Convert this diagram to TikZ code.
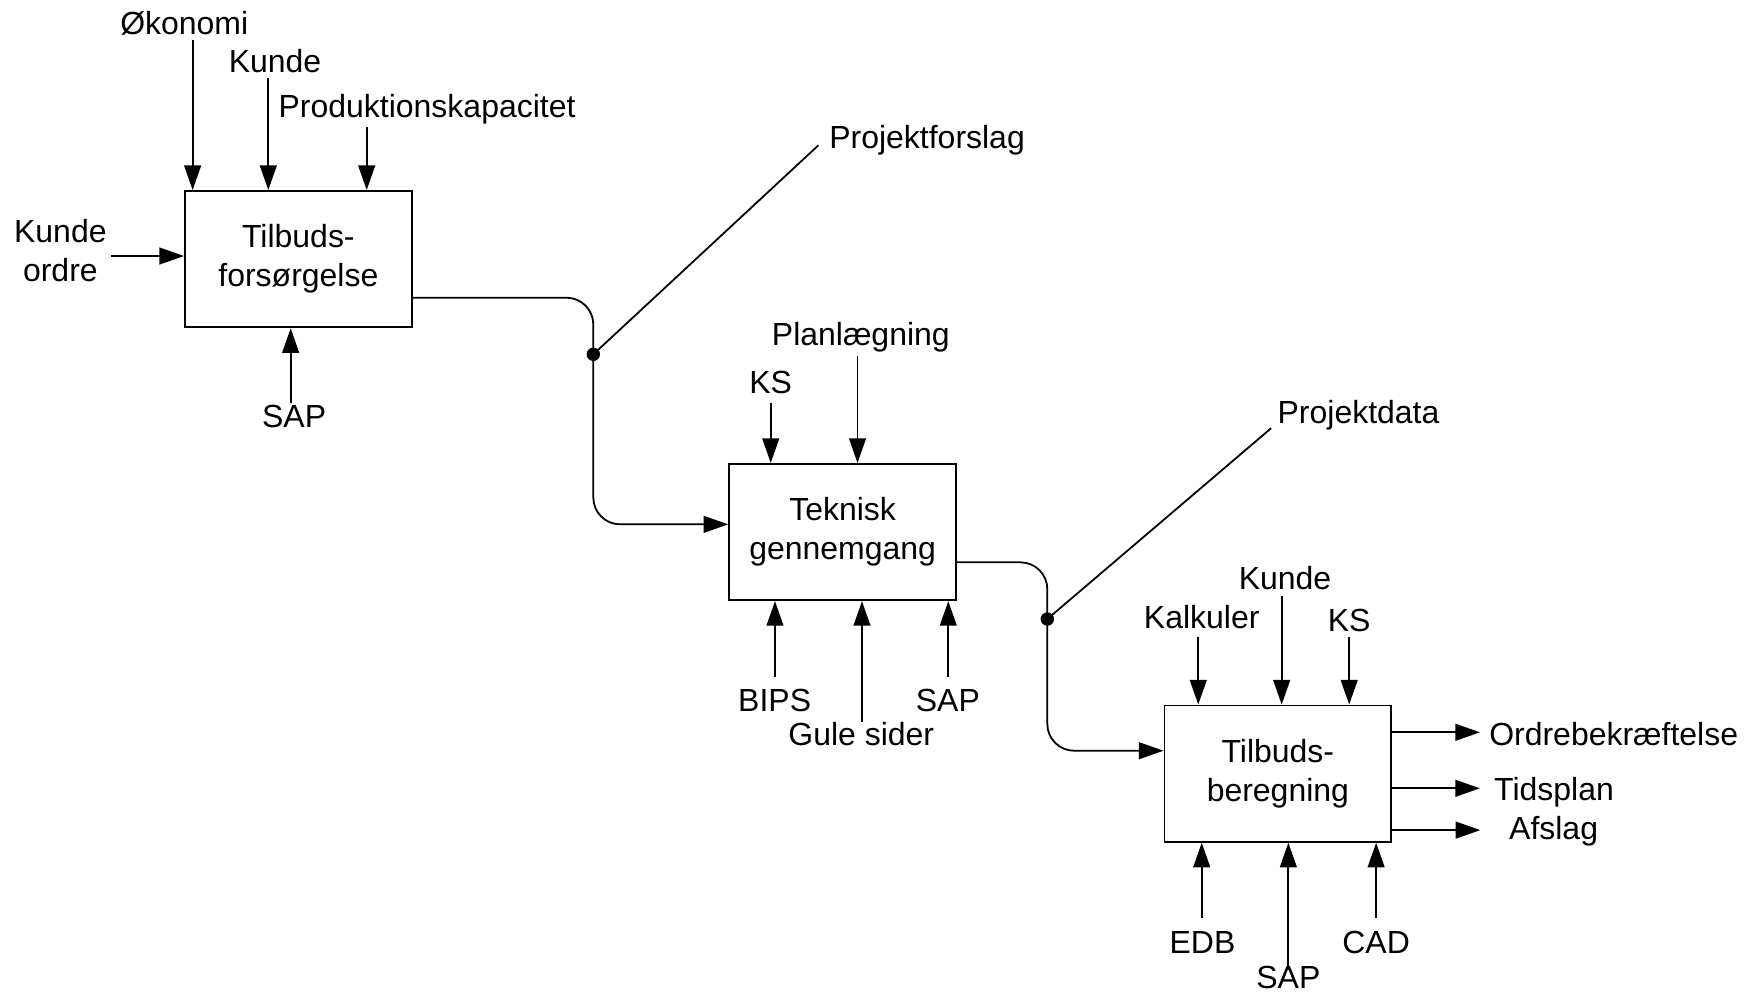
\documentclass[tikz,border=0pt]{standalone}
\usepackage{fontspec}
\setmainfont{Liberation Sans}
\usetikzlibrary{arrows.meta}
\tikzset{proc/.style={draw, minimum width=203, minimum height=122, align=center, inner sep=0pt},
  lbl/.style={inner sep=0pt, anchor=base},
  lblw/.style={inner sep=0pt, anchor=base west},
  arr/.style={-{Triangle[length=22pt,width=15pt]}}}

\begin{document}
\begin{tikzpicture}[x=1pt,y=-1pt,line width=1.6pt,font=\fontsize{28.6}{35}\selectfont]
    \useasboundingbox (0,0) rectangle (1568,888);
    \node[proc] (fors) at (266.9,231.8) {Tilbuds-\\forsørgelse};
    \node[proc] (tek) at (753.7,475.9) {Teknisk\\gennemgang};
    \node[proc] (ber) at (1143,692) {Tilbuds-\\beregning};

    \node[lbl] (oko) at (164.8,31.3) {Økonomi};
    \node[lbl] (kunA) at (246,65) {Kunde};
    \node[lbl] (prod) at (382,105) {Produktionskapacitet};
    \node[align=center,inner sep=0pt] (kord) at (54,224) {Kunde\\ordre};
    \node[lbl] (sapA) at (263.1,382.5) {SAP};
    \draw[arr] ([shift={(7.5,4.5)}]oko.base) coordinate (t) -- (t |- fors.north);
    \draw[arr] ([shift={(-6,5)}]kunA.base) coordinate (t) -- (t |- fors.north);
    \draw[arr] ([shift={(-54,8.3)}]prod.base) coordinate (t) -- (t |- fors.north);
    \draw[arr] ([shift={(3,5)}]kord.east) coordinate (t) -- (t -| fors.west);
    \draw[arr] ([shift={(-3.1,-21.7)}]sapA.base) coordinate (t) -- (t |- fors.south);

    \coordinate (j1) at (530.7,316.9);
    \coordinate (pfend) at (732,130);
    \node[lblw] (pfor) at (741,133) {Projektforslag};
    \draw[arr,rounded corners=24] ([yshift=-34.5pt]fors.east) -| (j1) |- ([yshift=6.9pt]tek.west);
    \draw (j1) -- (pfend);
    \fill (j1) circle (6);

    \node[lbl] (ksB) at (689.4,351.8) {KS};
    \node[lbl] (plan) at (770,309) {Planlægning};
    \node[lbl] (bips) at (692.9,636) {BIPS};
    \node[lbl] (gule) at (770.4,667) {Gule sider};
    \node[lbl] (sapB) at (847.8,636) {SAP};
    \draw[arr] ([shift={(0,8.7)}]ksB.base) coordinate (t) -- (t |- tek.north);
    \draw[arr] ([shift={(-3,9)}]plan.base) coordinate (t) -- (t |- tek.north);
    \draw[arr] ([shift={(0.3,-30.7)}]bips.base) coordinate (t) -- (t |- tek.south);
    \draw[arr] ([shift={(0.6,-21.5)}]gule.base) coordinate (t) -- (t |- tek.south);
    \draw[arr] ([shift={(0.4,-30.7)}]sapB.base) coordinate (t) -- (t |- tek.south);

    \coordinate (j2) at (936.8,553.7);
    \coordinate (pdend) at (1137,383);
    \node[lblw] (pdat) at (1142,379) {Projektdata};
    \draw[arr,rounded corners=24] ([yshift=-27.1pt]tek.east) -| (j2) |- ([yshift=20.5pt]ber.west);
    \draw (j2) -- (pdend);
    \fill (j2) circle (6);

    \node[lbl] (kal) at (1074.9,562.6) {Kalkuler};
    \node[lbl] (kunC) at (1149.4,527.7) {Kunde};
    \node[lbl] (ksC) at (1206.8,565) {KS};
    \node[lbl] (edb) at (1075.6,852.7) {EDB};
    \node[lbl] (sapC) at (1152.4,884) {SAP};
    \node[lbl] (cad) at (1230.9,852.7) {CAD};
    \draw[arr] ([shift={(-3.1,7.4)}]kal.base) coordinate (t) -- (t |- ber.north);
    \draw[arr] ([shift={(-3,5.4)}]kunC.base) coordinate (t) -- (t |- ber.north);
    \draw[arr] ([shift={(0,5)}]ksC.base) coordinate (t) -- (t |- ber.north);
    \draw[arr] ([shift={(-0.7,-31.9)}]edb.base) coordinate (t) -- (t |- ber.south);
    \draw[arr] ([shift={(0,-16)}]sapC.base) coordinate (t) -- (t |- ber.south);
    \draw[arr] ([shift={(0,-31.9)}]cad.base) coordinate (t) -- (t |- ber.south);

    \node[lblw] (obek) at (1331.3,666.4) {Ordrebekræftelse};
    \node[lblw] (tids) at (1335.7,715.6) {Tidsplan};
    \node[lblw] (afs) at (1349.1,751) {Afslag};
    \draw[arr] ([yshift=37pt]ber.east) coordinate (t) -- ([xshift=-7.5pt]t -| obek.west);
    \draw[arr] ([yshift=-13.1pt]ber.east) coordinate (t) -- ([xshift=-12pt]t -| tids.west);
    \draw[arr] ([yshift=-50.5pt]ber.east) coordinate (t) -- ([xshift=-25pt]t -| afs.west);
\end{tikzpicture}
\end{document}
